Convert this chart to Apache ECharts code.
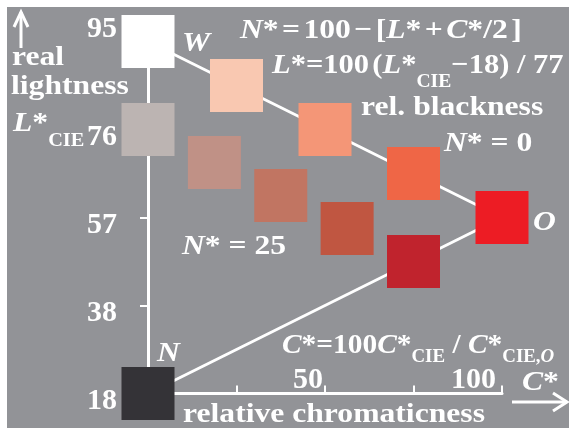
<!DOCTYPE html>
<html><head><meta charset="utf-8">
<script src="https://cdn.jsdelivr.net/npm/echarts@6/dist/echarts.min.js"></script>
<style>html,body{margin:0;padding:0;background:#fff}#c{width:569px;height:428px}</style>
</head><body><div id="c"></div>
<script>
// ---- data ----
const chromaticness = [0, 0, 0, 100, 25, 50, 75, 18.75, 37.5, 56.25, 75];
const lightness = [100, 75, 0, 50, 87.5, 75, 62.5, 65.625, 56.25, 46.875, 37.5];
const squareColors = ['#ffffff','#bcb4b2','#343337','#ed1c24','#f9c8b1','#f49677','#ef6646','#c09186','#c17562','#c05641','#c0232d'];
const lineWO_C = [0, 100];
const lineWO_L = [100, 50];
const lineNO_C = [0, 100];
const lineNO_L = [0, 50];
const yTickValues = [0, 25, 50, 75, 100];
const yTickLabels = ['18', '38', '57', '76', '95'];
const xTickValues = [0, 25, 50, 75, 100];
const xTickLabels = ['', '', '50', '', '100'];

const SERIF = '"Liberation Serif","Times New Roman",serif';
const FS = 28, SX = 1.13;

function rich(P) {
  return {
    i: {fontStyle:'italic', fontWeight:'bold', fontSize:FS, fontFamily:SERIF},
    sub: {fontWeight:'bold', fontSize:18, fontFamily:SERIF, padding:[P||0,0,0,0]},
    subi: {fontStyle:'italic', fontWeight:'bold', fontSize:18, fontFamily:SERIF, padding:[P||0,0,0,0]},
    s: {fontWeight:'bold', fontSize:12, fontFamily:SERIF}
  };
}
function txt(x, baseline, text, P, sx) {
  return {
    type:'text', x:x, y: baseline - 0.3375*FS, scaleX: sx || SX, z: 50,
    style: {text:text, fill:'#fff', fontSize:FS, fontWeight:'bold', fontFamily:SERIF,
            align:'left', verticalAlign:'middle', rich: rich(P)}
  };
}

const chart = echarts.init(document.getElementById('c'), null, {renderer:'canvas'});
chart.setOption({
  animation: false,
  backgroundColor: '#929397',
  grid: {left:148, right:67, top:41.5, bottom:34.5},
  xAxis: {
    type:'value', min:0, max:100, interval:25,
    axisLine:{show:true, onZero:false, lineStyle:{color:'#fff', width:3}},
    axisTick:{show:true, inside:true, length:8, lineStyle:{color:'#fff', width:2}},
    splitLine:{show:false},
    axisLabel:{
      inside:true, margin:13.5, verticalAlign:'middle', align:'right',
      formatter: function (v) {
        const k = xTickValues.indexOf(v);
        const t = k >= 0 ? xTickLabels[k] : '';
        if (!t) return '';
        return (k === xTickValues.length - 1 ? '{b|' : '{a|') + t + '}';
      },
      rich: {
        a: {color:'#fff', fontSize:30, fontWeight:'bold', fontFamily:SERIF, padding:[0,2,0,0]},
        b: {color:'#fff', fontSize:30, fontWeight:'bold', fontFamily:SERIF, padding:[0,6,0,0]}
      }
    }
  },
  yAxis: {
    type:'value', min:0, max:100, interval:25,
    axisLine:{show:true, onZero:false, lineStyle:{color:'#fff', width:3}},
    axisTick:{show:true, length:8, lineStyle:{color:'#fff', width:2}},
    splitLine:{show:false},
    axisLabel:{
      margin:31,
      formatter: function (v) {
        const k = yTickValues.indexOf(v);
        if (k < 0) return '';
        return (k === yTickValues.length - 1 ? '{t|' : '{n|') + yTickLabels[k] + '}';
      },
      rich: {
        t: {color:'#fff', fontSize:30, fontWeight:'bold', fontFamily:SERIF, padding:[0,0,24,0]},
        n: {color:'#fff', fontSize:30, fontWeight:'bold', fontFamily:SERIF, padding:[15,0,0,0]}
      }
    }
  },
  series: [
    {type:'line', data: lineWO_C.map((c,i)=>[c, lineWO_L[i]]), symbol:'none', z:1, silent:true,
     lineStyle:{color:'#fff', width:3}},
    {type:'line', data: lineNO_C.map((c,i)=>[c, lineNO_L[i]]), symbol:'none', z:1, silent:true,
     lineStyle:{color:'#fff', width:3}},
    {type:'scatter', symbol:'rect', symbolSize:53, z:3, silent:true,
     data: chromaticness.map((c,i)=>({value:[c, lightness[i]], itemStyle:{color:squareColors[i], opacity:1}}))}
  ],
  graphic: [
    {type:'rect', shape:{x:0, y:0, width:569, height:7}, style:{fill:'#fff'}, z:100},
    {type:'rect', shape:{x:0, y:0, width:7, height:428}, style:{fill:'#fff'}, z:100},
    // arrows
    {type:'polyline', shape:{points:[[21,48],[21,12]]}, style:{stroke:'#fff', lineWidth:3, fill:null}, z:50},
    {type:'polyline', shape:{points:[[14,27],[21,12],[28,27]]}, style:{stroke:'#fff', lineWidth:3, fill:null}, z:50},
    {type:'polyline', shape:{points:[[512,402],[567,402]]}, style:{stroke:'#fff', lineWidth:3, fill:null}, z:50},
    {type:'polyline', shape:{points:[[553,393],[567,402],[553,411]]}, style:{stroke:'#fff', lineWidth:3, fill:null}, z:50},
    // texts
    txt(240, 40, '{i|N}*{s| }={s| }100{s| }\u2212{s| }[{i|L}*{s| }+{s| }{i|C}*/2{s| }]'),
    txt(272, 75, '{i|L}*=100{s| }({i|L}*{sub|CIE}\u221218) / 77', 32.7, 1.09),
    txt(361, 117, 'rel. blackness'),
    txt(444, 153, '{i|N}* = 0'),
    txt(182, 256, '{i|N}* = 25'),
    txt(182, 53, '{i|W}'),
    txt(157, 363, '{i|N}'),
    txt(533, 232, '{i|O}'),
    txt(282, 355, '{i|C}*=100{i|C}*{sub|CIE} / {i|C}*{sub|CIE,}{subi|O}', 22.7, 1.05),
    txt(183, 424, 'relative chromaticness'),
    txt(12, 67, 'real'),
    txt(11, 96, 'lightness'),
    txt(13, 133, '{i|L}*{sub|CIE}', 34.7),
    txt(522, 392, '{i|C}*')
  ]
});
</script>
</body></html>
